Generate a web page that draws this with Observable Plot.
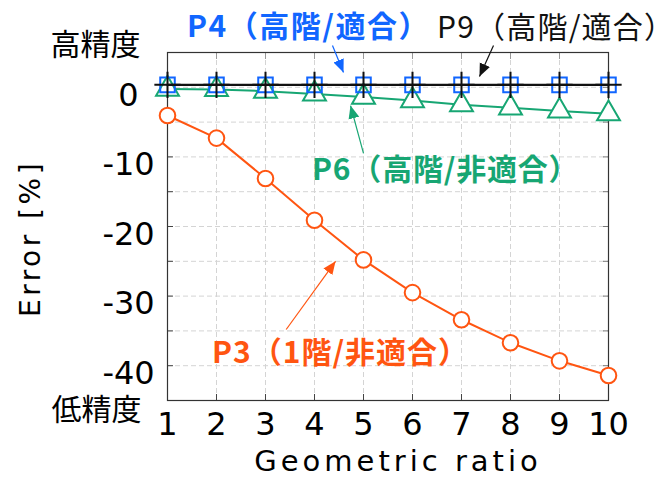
<!DOCTYPE html>
<html>
<head>
<meta charset="utf-8">
<script src="https://cdn.jsdelivr.net/npm/d3@7"></script>
<script src="https://cdn.jsdelivr.net/npm/@observablehq/plot@0.6"></script>
<style>
  html, body { margin: 0; padding: 0; background: #fff; }
  #chart { width: 661px; height: 481px; }
</style>
</head>
<body>
<div id="chart"></div>
<script>
// ---- data ----
const ratios = [1, 2, 3, 4, 5, 6, 7, 8, 9, 10];
const p3 = [-4.05, -7.3, -13.1, -19.1, -24.8, -29.5, -33.4, -36.7, -39.3, -41.4];
const p6 = [-0.25, -0.3, -0.55, -0.95, -1.4, -1.9, -2.5, -2.95, -3.4, -3.8];
const p4 = [0.35, 0.35, 0.35, 0.35, 0.35, 0.35, 0.35, 0.35, 0.35, 0.35];
const p9 = [0.35, 0.35, 0.35, 0.35, 0.35, 0.35, 0.35, 0.35, 0.35, 0.35];
const xTickLabels = [1, 2, 3, 4, 5, 6, 7, 8, 9, 10];
const yTickLabels = [0, -10, -20, -30, -40];
const yMinorTicks = [0, -5, -10, -15, -20, -25, -30, -35, -40];
const seriesNames = ["P3（1階/非適合）", "P6（高階/非適合）", "P4（高階/適合）", "P9（高階/適合）"];
const xLabel = "Geometric ratio";
const yLabel = "Error [%]";
const highLabel = "高精度";
const lowLabel = "低精度";

// ---- layout / styles ----
const colors = {p3: "#ff5511", p6: "#17a673", p4: "#1166ff", p9: "#111111"};
const tbl = (ys) => ratios.map((x, i) => ({x, y: ys[i]}));

// annotation placement (in data units of the chart)
const notes = [
  {text: seriesNames[2], x: 1.40, y: 8.6, color: colors.p4, weight: "bold", spacing: "1.5px"},
  {text: seriesNames[3], x: 6.50, y: 8.5, color: colors.p9, weight: "normal", spacing: "1.2px"},
  {text: seriesNames[1], x: 3.95, y: -11.95, color: colors.p6, weight: "bold", spacing: "0.8px"},
  {text: seriesNames[0], x: 1.91, y: -38.25, color: colors.p3, weight: "bold", spacing: "1px"}
];
const arrows = [
  {x1: 4.367, y1: 6.0, x2: 4.592, y2: 2.13, color: colors.p4},
  {x1: 7.653, y1: 6.0, x2: 7.367, y2: 1.55, color: colors.p9},
  {x1: 5.0, y1: -9.5, x2: 4.735, y2: -2.62, color: colors.p6},
  {x1: 3.422, y1: -34.8, x2: 4.429, y2: -25.0, color: colors.p3}
];

function filledArrow(color, context) {
  const ns = "http://www.w3.org/2000/svg";
  const doc = (context && context.document) || document;
  const m = doc.createElementNS(ns, "marker");
  m.setAttribute("viewBox", "-13 -6 13 12");
  m.setAttribute("markerWidth", 13);
  m.setAttribute("markerHeight", 12);
  m.setAttribute("markerUnits", "userSpaceOnUse");
  m.setAttribute("orient", "auto");
  m.setAttribute("fill", color);
  m.setAttribute("stroke", "none");
  const p = doc.createElementNS(ns, "path");
  p.setAttribute("d", "M-13,-5.5L0,0L-13,5.5Z");
  m.appendChild(p);
  return m;
}

const cjk = "'Noto Sans CJK JP', 'Noto Sans', sans-serif";
const latin = "'DejaVu Sans', sans-serif";

const chart = Plot.plot({
  width: 661,
  height: 481,
  marginLeft: 167,
  marginRight: 53,
  marginTop: 52,
  marginBottom: 81,
  x: {domain: [1, 10]},
  y: {domain: [-45, 5]},
  style: {background: "#fff", fontFamily: latin, overflow: "visible"},
  marks: [
    Plot.gridX(xTickLabels, {stroke: "#d4d4d4", strokeOpacity: 1, strokeDasharray: "5,3"}),
    Plot.gridY(yMinorTicks, {stroke: "#d4d4d4", strokeOpacity: 1, strokeDasharray: "5,3"}),
    // inward ticks
    Plot.axisX(xTickLabels, {anchor: "bottom", tickSize: -6, tickFormat: () => "", stroke: "#444", label: null}),
    Plot.axisX(xTickLabels, {anchor: "top", tickSize: -6, tickFormat: () => "", stroke: "#999", label: null}),
    Plot.axisY(yMinorTicks, {anchor: "left", tickSize: -6, tickFormat: () => "", stroke: "#444", label: null}),
    Plot.axisY(yMinorTicks, {anchor: "right", tickSize: -6, tickFormat: () => "", stroke: "#777", label: null}),
    // tick labels
    Plot.axisX(xTickLabels, {anchor: "bottom", tickSize: 0, tickPadding: 12, fontSize: 32, fill: "#000", label: null, tickFormat: d => String(d)}),
    Plot.axisY(yTickLabels, {anchor: "left", tickSize: 0, tickPadding: 39, textAnchor: "middle", dy: 8, fontSize: 32, fill: "#000", label: null, tickFormat: d => String(d)}),
    // axis titles
    Plot.text([xLabel], {frameAnchor: "bottom", textAnchor: "middle", lineAnchor: "middle", dy: 61, dx: 10, fontSize: 29, fill: "#000"}),
    Plot.text([yLabel], {frameAnchor: "left", textAnchor: "middle", lineAnchor: "middle", rotate: -90, dx: -136, dy: 12, fontSize: 28, fill: "#000"}),
    Plot.text([highLabel], {frameAnchor: "top-left", textAnchor: "middle", lineAnchor: "middle", dx: -72, dy: -7, fontSize: 30, fontFamily: cjk, fill: "#000"}),
    Plot.text([lowLabel], {frameAnchor: "bottom-left", textAnchor: "middle", lineAnchor: "middle", dx: -71, dy: 10, fontSize: 30, fontFamily: cjk, fill: "#000"}),
    // frame
    Plot.frame({stroke: "#333", strokeWidth: 1.2}),
    // P3
    Plot.line(tbl(p3), {x: "x", y: "y", stroke: colors.p3, strokeWidth: 2}),
    Plot.dot(tbl(p3), {x: "x", y: "y", r: 7.8, fill: "#fff", stroke: colors.p3, strokeWidth: 2}),
    // P6
    Plot.line(tbl(p6), {x: "x", y: "y", stroke: colors.p6, strokeWidth: 2}),
    Plot.dot(tbl(p6), {x: "x", y: "y", symbol: "triangle", r: 8.5, fill: "#fff", stroke: colors.p6, strokeWidth: 2}),
    // P4
    Plot.dot(tbl(p4), {x: "x", y: "y", symbol: "square", r: 8.2, fill: "none", stroke: colors.p4, strokeWidth: 2}),
    // P9
    Plot.line(tbl(p9), {x: "x", y: "y", stroke: colors.p9, strokeWidth: 2.4}),
    Plot.dot(tbl(p9), {x: "x", y: "y", symbol: "plus", r: 8.5, stroke: colors.p9, strokeWidth: 2}),
    // annotations
    ...arrows.map(a => Plot.link([a], {x1: "x1", y1: "y1", x2: "x2", y2: "y2", stroke: a.color, strokeWidth: 1.2, markerEnd: filledArrow, clip: false})),
    ...notes.map(n => Plot.text([n], {x: "x", y: "y", text: "text", textAnchor: "start", fill: n.color, fontWeight: n.weight, fontSize: 30, fontFamily: cjk, clip: false}))
  ]
});

// letter spacing, matched by text content
const spacingByText = new Map([[xLabel, "4px"], [yLabel, "3.5px"], ...notes.map(n => [n.text, n.spacing])]);
chart.querySelectorAll("text").forEach(t => {
  const s = spacingByText.get(t.textContent);
  if (s) t.style.letterSpacing = s;
});
document.getElementById("chart").appendChild(chart);
</script>
</body>
</html>
